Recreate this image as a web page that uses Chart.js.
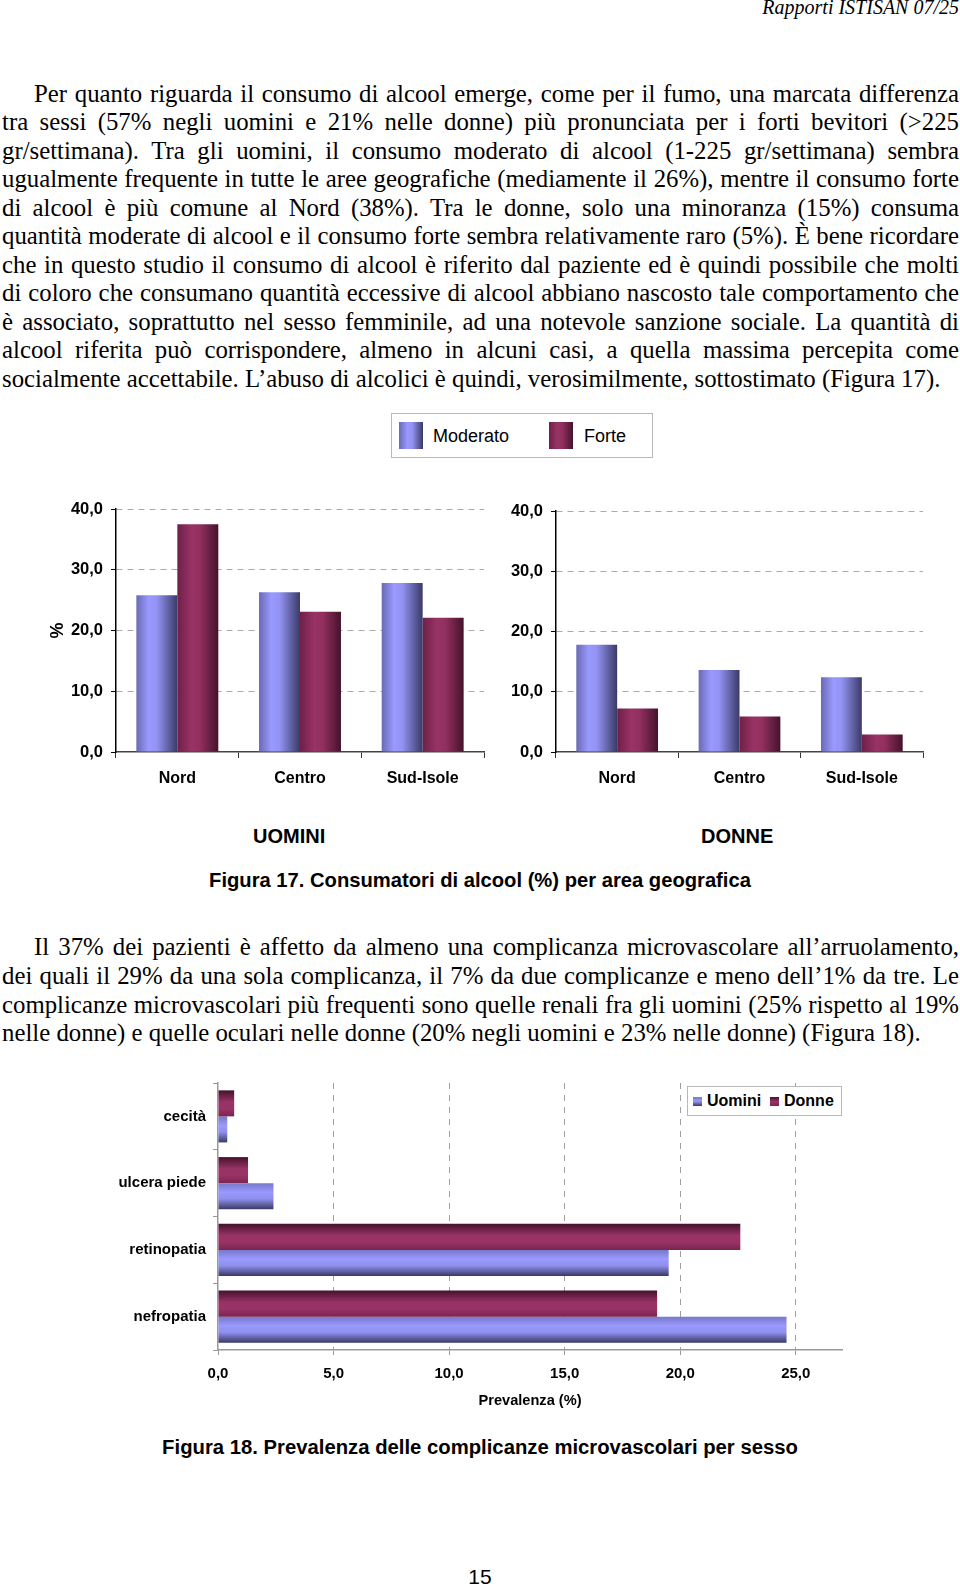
<!DOCTYPE html>
<html>
<head>
<meta charset="utf-8">
<script src="https://cdn.jsdelivr.net/npm/chart.js@4.4.0/dist/chart.umd.min.js"></script>
<style>
  body { margin: 0; background: #fff; width: 960px; height: 1587px; position: relative; overflow: hidden; }
  .t { position: absolute; font-family: "Liberation Serif", "Times New Roman", serif; font-size: 24.8px; line-height: 1; white-space: pre; color: #000; }
  .s { position: absolute; font-family: "Liberation Sans", Arial, sans-serif; font-weight: bold; line-height: 1; white-space: pre; color: #000; }
  canvas { position: absolute; }
  .box { position: absolute; border: 1px solid #b8b8b8; background: #fff; }
  .sw { position: absolute; }
</style>
</head>
<body>

<div class="t" style="right:1px;top:-3px;font-size:20px;font-style:italic">Rapporti ISTISAN 07/25</div>

<div id="par1"></div>

<div class="box" style="left:391px;top:413px;width:260px;height:43px">
  <div class="sw" style="left:7px;top:8px;width:24px;height:27px;background:linear-gradient(to right,#6a6ab4 0%,#9999ff 35%,#9393f3 55%,#3a3a68 100%)"></div>
  <div class="s" style="left:41px;top:13px;font-size:18px;font-weight:normal">Moderato</div>
  <div class="sw" style="left:157px;top:8px;width:24px;height:27px;background:linear-gradient(to right,#6e2048 0%,#993366 35%,#92305f 55%,#45122b 100%)"></div>
  <div class="s" style="left:192px;top:13px;font-size:18px;font-weight:normal">Forte</div>
</div>

<canvas id="uomini" width="460" height="310" style="left:40px;top:490px"></canvas>
<canvas id="donne" width="460" height="310" style="left:480px;top:490px"></canvas>

<div class="s" style="left:253px;top:826px;font-size:20px">UOMINI</div>
<div class="s" style="left:701px;top:826px;font-size:20px">DONNE</div>
<div class="s" style="left:0;width:960px;text-align:center;top:870px;font-size:20.2px">Figura 17. Consumatori di alcool (%) per area geografica</div>

<div id="par2"></div>

<canvas id="complicanze" width="760" height="346" style="left:100px;top:1065px"></canvas>
<div class="box" style="left:687px;top:1086px;width:153px;height:28px">
  <div class="sw" style="left:5px;top:10px;width:9px;height:9px;background:linear-gradient(#7777c8,#9999ff 45%,#3a3a68)"></div>
  <div class="s" style="left:19px;top:6px;font-size:16px">Uomini</div>
  <div class="sw" style="left:82px;top:10px;width:9px;height:9px;background:linear-gradient(#45122b,#993366 50%,#7a2550)"></div>
  <div class="s" style="left:96px;top:6px;font-size:16px">Donne</div>
</div>

<div class="s" style="left:0;width:960px;text-align:center;top:1437px;font-size:20.3px">Figura 18. Prevalenza delle complicanze microvascolari per sesso</div>

<div class="s" style="left:0;width:960px;text-align:center;top:1566px;font-size:21px;font-weight:normal">15</div>

<script>
// dati figura 17
const regioni = ['Nord', 'Centro', 'Sud-Isole'];
const uominiModerato = [25.8, 26.3, 27.8];
const uominiForte = [37.5, 23.1, 22.1];
const donneModerato = [17.8, 13.6, 12.4];
const donneForte = [7.2, 5.9, 2.9];
const tickY = [0, 10, 20, 30, 40];

// dati figura 18
const complicanze = ['cecità', 'ulcera piede', 'retinopatia', 'nefropatia'];
const prevUomini = [0.4, 2.4, 19.5, 24.6];
const prevDonne = [0.7, 1.3, 22.6, 19.0];
const tickPrev = [0, 5, 10, 15, 20, 25];

// testo della pagina, riga per riga
const righe1 = [
  'Per quanto riguarda il consumo di alcool emerge, come per il fumo, una marcata differenza',
  'tra sessi (57% negli uomini e 21% nelle donne) più pronunciata per i forti bevitori (>225',
  'gr/settimana). Tra gli uomini, il consumo moderato di alcool (1-225 gr/settimana) sembra',
  'ugualmente frequente in tutte le aree geografiche (mediamente il 26%), mentre il consumo forte',
  'di alcool è più comune al Nord (38%). Tra le donne, solo una minoranza (15%) consuma',
  'quantità moderate di alcool e il consumo forte sembra relativamente raro (5%). È bene ricordare',
  'che in questo studio il consumo di alcool è riferito dal paziente ed è quindi possibile che molti',
  'di coloro che consumano quantità eccessive di alcool abbiano nascosto tale comportamento che',
  'è associato, soprattutto nel sesso femminile, ad una notevole sanzione sociale. La quantità di',
  'alcool riferita può corrispondere, almeno in alcuni casi, a quella massima percepita come',
  'socialmente accettabile. L’abuso di alcolici è quindi, verosimilmente, sottostimato (Figura 17).'
];
const righe2 = [
  'Il 37% dei pazienti è affetto da almeno una complicanza microvascolare all’arruolamento,',
  'dei quali il 29% da una sola complicanza, il 7% da due complicanze e meno dell’1% da tre. Le',
  'complicanze microvascolari più frequenti sono quelle renali fra gli uomini (25% rispetto al 19%',
  'nelle donne) e quelle oculari nelle donne (20% negli uomini e 23% nelle donne) (Figura 18).'
];

function paragrafo(id, righe, y0, passo) {
  const box = document.getElementById(id);
  righe.forEach((testo, i) => {
    const d = document.createElement('div');
    d.className = 't';
    d.textContent = testo;
    const left = i === 0 ? 34 : 2;
    d.style.left = left + 'px';
    d.style.top = (y0 + i * passo - 13) + 'px';
    box.appendChild(d);
    if (i < righe.length - 1) {
      const w = d.getBoundingClientRect().width;
      const spazi = (testo.match(/ /g) || []).length;
      d.style.wordSpacing = ((959 - left - w) / spazi) + 'px';
    }
  });
}
paragrafo('par1', righe1, 94.6, 28.53);
paragrafo('par2', righe2, 948.4, 28.67);

const SANS = '"Liberation Sans", Arial, sans-serif';
const virgola = v => Number(v).toFixed(1).replace('.', ',');

const BLU = [[0, '#6a6ab4'], [0.3, '#9999ff'], [0.5, '#9393f3'], [1, '#3a3a68']];
const ROSSO = [[0, '#6e2048'], [0.35, '#993366'], [0.55, '#92305f'], [1, '#45122b']];
const BLU_H = [[0, '#7777c8'], [0.35, '#9999ff'], [0.6, '#9090ee'], [1, '#3a3a68']];
const ROSSO_H = [[0, '#45122b'], [0.45, '#993366'], [0.7, '#993366'], [1, '#7a2550']];

// sfumatura cilindrica sulle barre, calcolata sulla posizione della barra
function sfumatura(stops) {
  return function (ctx) {
    const el = ctx.element;
    if (!el || el.x === undefined || isNaN(el.x)) return stops[1][1];
    const c = ctx.chart.ctx;
    let g;
    if (ctx.chart.options.indexAxis === 'y') {
      g = c.createLinearGradient(0, el.y - el.height / 2, 0, el.y + el.height / 2);
    } else {
      g = c.createLinearGradient(el.x - el.width / 2, 0, el.x + el.width / 2, 0);
    }
    stops.forEach(s => g.addColorStop(s[0], s[1]));
    return g;
  };
}

function graficoColonne(id, moderato, forte, padTop, padRight, conTitolo) {
  const chart = new Chart(document.getElementById(id), {
    type: 'bar',
    data: {
      labels: regioni,
      datasets: [
        { label: 'Moderato', data: moderato, backgroundColor: sfumatura(BLU), borderWidth: 0, categoryPercentage: 0.668, barPercentage: 1 },
        { label: 'Forte', data: forte, backgroundColor: sfumatura(ROSSO), borderWidth: 0, categoryPercentage: 0.668, barPercentage: 1 }
      ]
    },
    options: {
      responsive: false,
      animation: false,
      layout: { padding: { top: padTop, right: padRight, left: 0, bottom: 0 } },
      plugins: { legend: { display: false }, tooltip: { enabled: false } },
      scales: {
        x: {
          afterFit: s => { s.height = 48; },
          grid: { drawOnChartArea: false, drawTicks: true, tickLength: 6, tickColor: '#333', offset: true },
          border: { color: '#444', width: 1.5 },
          ticks: { color: '#000', padding: 11, font: { family: SANS, size: 16, weight: 'bold' } }
        },
        y: {
          min: 0, max: 40,
          afterFit: s => { s.width = 76; },
          afterBuildTicks: s => { s.ticks = tickY.map(v => ({ value: v })); },
          grid: {
            color: c => (c.tick && c.tick.value === 0 ? 'rgba(0,0,0,0)' : '#aaaaaa'),
            tickBorderDash: [], tickColor: '#000', tickLength: 5
          },
          border: { color: '#000', width: 1.5, dash: [6, 5] },
          ticks: { color: '#000', padding: 8, font: { family: SANS, size: 16.5, weight: 'bold' }, callback: v => virgola(v) },
          title: { display: conTitolo, text: '%', color: '#000', font: { family: SANS, size: 18, weight: 'bold' }, padding: { top: 7, bottom: 0 } }
        }
      }
    }
  });
  chart.update('none');
  return chart;
}

graficoColonne('uomini', uominiModerato, uominiForte, 19, 16, true);
graficoColonne('donne', donneModerato, donneForte, 21, 17, false);

const graficoComplicanze = new Chart(document.getElementById('complicanze'), {
  type: 'bar',
  data: {
    labels: complicanze,
    datasets: [
      { label: 'Donne', data: prevDonne, backgroundColor: sfumatura(ROSSO_H), borderWidth: 0, categoryPercentage: 0.78, barPercentage: 1 },
      { label: 'Uomini', data: prevUomini, backgroundColor: sfumatura(BLU_H), borderWidth: 0, categoryPercentage: 0.78, barPercentage: 1 }
    ]
  },
  options: {
    indexAxis: 'y',
    responsive: false,
    animation: false,
    layout: { padding: { top: 18, right: 18, left: 0, bottom: 0 } },
    plugins: { legend: { display: false }, tooltip: { enabled: false } },
    scales: {
      x: {
        min: 0, max: 27,
        afterFit: s => { s.height = 61; },
        afterBuildTicks: s => { s.ticks = tickPrev.map(v => ({ value: v })); },
        grid: {
          color: c => (c.tick && c.tick.value === 0 ? 'rgba(0,0,0,0)' : '#a0a0a0'),
          tickBorderDash: [], tickColor: '#999', tickLength: 5
        },
        border: { color: '#999', width: 1.5, dash: [6, 6] },
        ticks: { color: '#000', padding: 10, font: { family: SANS, size: 15, weight: 'bold' }, callback: v => virgola(v) },
        title: { display: true, text: 'Prevalenza (%)', color: '#000', font: { family: SANS, size: 14.6, weight: 'bold' }, padding: { top: 0, bottom: 1 } }
      },
      y: {
        afterFit: s => { s.width = 118; },
        grid: { drawOnChartArea: false, drawTicks: true, tickLength: 5, tickColor: '#999', offset: true },
        border: { color: '#999', width: 1.5 },
        ticks: { color: '#000', padding: 7, font: { family: SANS, size: 15, weight: 'bold' } }
      }
    }
  }
});
graficoComplicanze.update('none');
</script>
</body>
</html>
